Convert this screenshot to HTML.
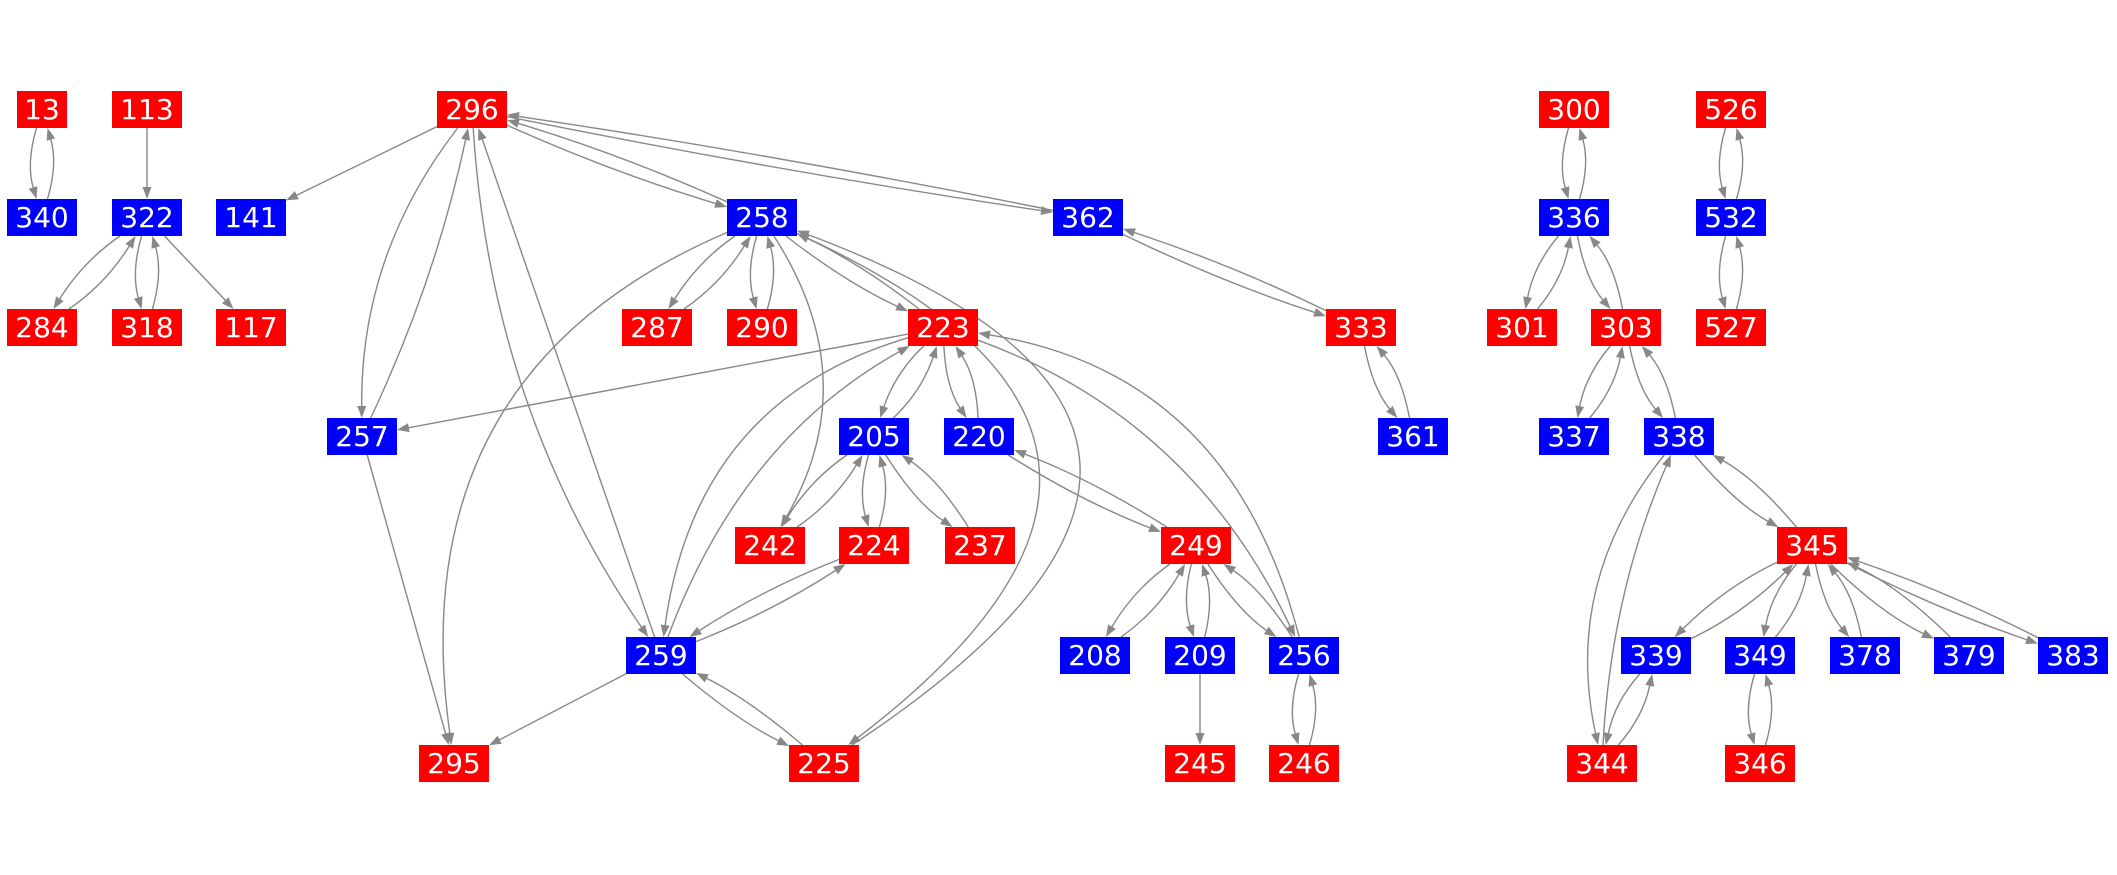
<!DOCTYPE html>
<html><head><meta charset="utf-8">
<style>
html,body{margin:0;padding:0;background:#fff;}
#c{position:relative;width:2117px;height:875px;overflow:hidden;}
.n{position:absolute;width:70px;height:37px;color:#fff;font-family:"DejaVu Sans","Liberation Sans",sans-serif;font-size:28px;line-height:37px;text-align:center;}
.r{background:#ff0000;}.b{background:#0000ff;}
svg{position:absolute;left:0;top:0;}
</style></head><body>
<div id="c">
<svg id="s" width="2117" height="875"></svg>
<div class="n r" style="left:17px;top:91px;width:50px">13</div>
<div class="n r" style="left:112px;top:91px">113</div>
<div class="n r" style="left:437px;top:91px">296</div>
<div class="n r" style="left:1539px;top:91px">300</div>
<div class="n r" style="left:1696px;top:91px">526</div>
<div class="n b" style="left:7px;top:199px">340</div>
<div class="n b" style="left:112px;top:199px">322</div>
<div class="n b" style="left:216px;top:199px">141</div>
<div class="n b" style="left:727px;top:199px">258</div>
<div class="n b" style="left:1053px;top:199px">362</div>
<div class="n b" style="left:1539px;top:199px">336</div>
<div class="n b" style="left:1696px;top:199px">532</div>
<div class="n r" style="left:7px;top:309px">284</div>
<div class="n r" style="left:112px;top:309px">318</div>
<div class="n r" style="left:216px;top:309px">117</div>
<div class="n r" style="left:622px;top:309px">287</div>
<div class="n r" style="left:727px;top:309px">290</div>
<div class="n r" style="left:908px;top:309px">223</div>
<div class="n r" style="left:1326px;top:309px">333</div>
<div class="n r" style="left:1487px;top:309px">301</div>
<div class="n r" style="left:1591px;top:309px">303</div>
<div class="n r" style="left:1696px;top:309px">527</div>
<div class="n b" style="left:327px;top:418px">257</div>
<div class="n b" style="left:839px;top:418px">205</div>
<div class="n b" style="left:944px;top:418px">220</div>
<div class="n b" style="left:1378px;top:418px">361</div>
<div class="n b" style="left:1539px;top:418px">337</div>
<div class="n b" style="left:1644px;top:418px">338</div>
<div class="n r" style="left:735px;top:527px">242</div>
<div class="n r" style="left:839px;top:527px">224</div>
<div class="n r" style="left:945px;top:527px">237</div>
<div class="n r" style="left:1161px;top:527px">249</div>
<div class="n r" style="left:1777px;top:527px">345</div>
<div class="n b" style="left:626px;top:637px">259</div>
<div class="n b" style="left:1060px;top:637px">208</div>
<div class="n b" style="left:1165px;top:637px">209</div>
<div class="n b" style="left:1269px;top:637px">256</div>
<div class="n b" style="left:1621px;top:637px">339</div>
<div class="n b" style="left:1725px;top:637px">349</div>
<div class="n b" style="left:1830px;top:637px">378</div>
<div class="n b" style="left:1934px;top:637px">379</div>
<div class="n b" style="left:2038px;top:637px">383</div>
<div class="n r" style="left:419px;top:745px">295</div>
<div class="n r" style="left:789px;top:745px">225</div>
<div class="n r" style="left:1165px;top:745px">245</div>
<div class="n r" style="left:1269px;top:745px">246</div>
<div class="n r" style="left:1567px;top:745px">344</div>
<div class="n r" style="left:1725px;top:745px">346</div>
</div>
<script>
var N={};
document.querySelectorAll('.n').forEach(function(d){
 var x=parseFloat(d.style.left),y=parseFloat(d.style.top),w=d.style.width?parseFloat(d.style.width):70;
 N[d.textContent]={cx:x+w/2,cy:y+18.5,hw:w/2,hh:18.5};});
var S=document.getElementById('s'),out='';
function clip(n,px,py){var dx=px-n.cx,dy=py-n.cy;if(!dx&&!dy)dy=1;
 var t=Math.min(dx?n.hw/Math.abs(dx):1e9,dy?n.hh/Math.abs(dy):1e9);return [n.cx+dx*t,n.cy+dy*t];}
function E(a,b,bend){var A=N[a],B=N[b];bend=bend||0;
 var dx=B.cx-A.cx,dy=B.cy-A.cy,L=Math.hypot(dx,dy),nx=-dy/L,ny=dx/L;
 var mx=(A.cx+B.cx)/2+nx*bend*2,my=(A.cy+B.cy)/2+ny*bend*2;
 var p0=clip(A,mx,my),p2=clip(B,mx,my);
 var ux=p2[0]-mx,uy=p2[1]-my,ul=Math.hypot(ux,uy);ux/=ul;uy/=ul;
 var e=[p2[0]-ux*11,p2[1]-uy*11];
 out+='<path d="M'+p0[0].toFixed(1)+','+p0[1].toFixed(1)+' Q'+mx.toFixed(1)+','+my.toFixed(1)+' '+e[0].toFixed(1)+','+e[1].toFixed(1)+'" fill="none" stroke="#888" stroke-width="1.4"/>';
 var bx=p2[0]-ux*12,by=p2[1]-uy*12;
 out+='<polygon points="'+p2[0].toFixed(1)+','+p2[1].toFixed(1)+' '+(bx-uy*4.5).toFixed(1)+','+(by+ux*4.5).toFixed(1)+' '+(bx+uy*4.5).toFixed(1)+','+(by-ux*4.5).toFixed(1)+'" fill="#888"/>';}
function P(a,b,k){k=k===undefined?8:k;E(a,b,k);E(b,a,k);}
P('13','340');E('113','322');P('322','284');P('322','318');E('322','117');
E('296','141');E('296','257',30);E('257','296',10);E('296','259',40);E('259','296',0);
P('296','258',5);P('296','362',4);P('258','287');P('258','290');P('258','223',6);
E('258','295',120);E('258','242',-50);E('258','225',-230);E('225','258',270);
P('362','333',5);E('223','257');E('223','259',70);E('259','223',-40);
P('223','205');P('223','220');E('223','256',-50);E('256','223',80);P('220','249',6);
P('205','242');P('205','224');P('205','237');P('224','259',6);E('259','295');P('259','225',6);
E('257','295');P('249','208');P('249','209');P('249','256');E('209','245');P('256','246');
P('333','361');P('300','336');P('336','301');P('336','303');P('303','337');P('303','338');
P('526','532');P('532','527');P('338','345');E('338','344',40);E('344','338',-15);
P('345','339');P('345','349');P('345','378');P('345','379');P('345','383',5);P('339','344');P('349','346');
S.innerHTML=out;
</script>
</body></html>
